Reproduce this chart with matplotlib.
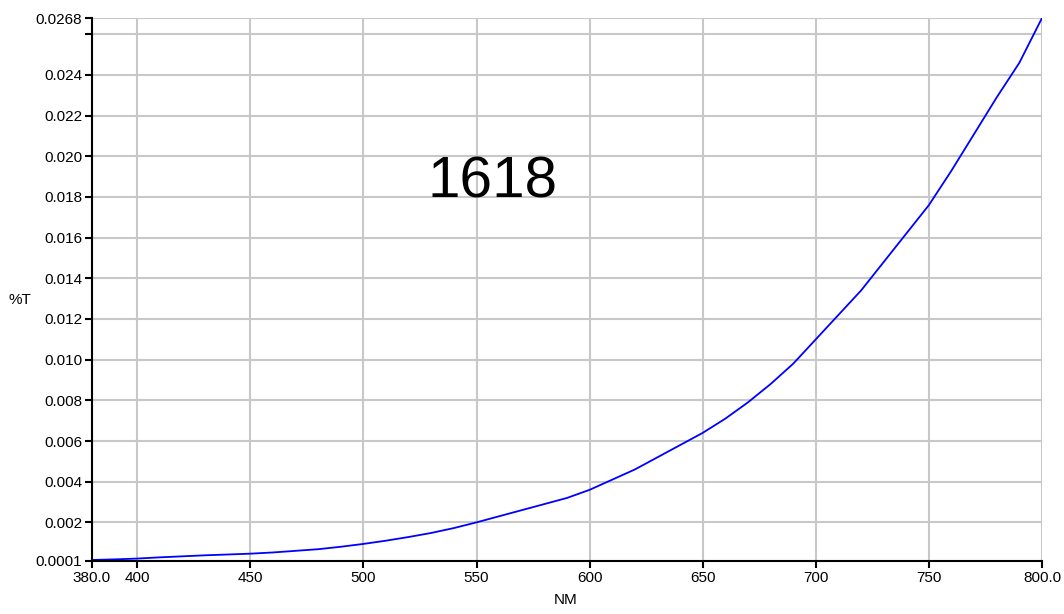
import matplotlib
matplotlib.use("Agg")
import matplotlib.pyplot as plt

plt.rcParams['font.family'] = ['Liberation Sans', 'DejaVu Sans']

# spectrum
wavelength = [380, 390, 400, 410, 420, 430, 440, 450, 460, 470, 480, 490,
              500, 510, 520, 530, 540, 550, 560, 570, 580, 590, 600, 610,
              620, 630, 640, 650, 660, 670, 680, 690, 700, 710, 720,
              730, 740, 750, 760, 770, 780, 790, 800]
transmission = [0.00015, 0.00018, 0.00022, 0.00028, 0.00033, 0.00038, 0.00042,
                0.00046, 0.00052, 0.00060, 0.00068, 0.00080, 0.00094, 0.00110,
                0.00128, 0.00148, 0.00172, 0.0020, 0.0023, 0.0026, 0.0029,
                0.0032, 0.0036, 0.0041, 0.0046, 0.0052, 0.0058, 0.0064,
                0.0071, 0.0079, 0.0088, 0.0098, 0.0110, 0.0122, 0.0134,
                0.0148, 0.0162, 0.0176, 0.0193, 0.0211, 0.0229, 0.0246, 0.0268]

x_ticks = [380, 400, 450, 500, 550, 600, 650, 700, 750, 800]
x_labels = ['380.0', '400', '450', '500', '550', '600', '650', '700', '750', '800.0']
y_ticks = [0.0001, 0.002, 0.004, 0.006, 0.008, 0.010, 0.012, 0.014, 0.016,
           0.018, 0.020, 0.022, 0.024, 0.026, 0.0268]
y_labels = ['0.0001', '0.002', '0.004', '0.006', '0.008', '0.010', '0.012',
            '0.014', '0.016', '0.018', '0.020', '0.022', '0.024', '', '0.0268']

fig = plt.figure(figsize=(10.64, 6.14), dpi=100)
ax = fig.add_axes([92 / 1064, 53 / 614, 950 / 1064, 543 / 614])

ax.plot(wavelength, transmission, color='#0000ff', linewidth=1.3, zorder=3)

ax.set_xlim(380, 800)
ax.set_ylim(0.0001, 0.0268)
ax.set_xticks(x_ticks)
ax.set_xticklabels(x_labels)
ax.set_yticks(y_ticks)
ax.set_yticklabels(y_labels)

ax.grid(True, color='#c8c8c8', linewidth=1.5)
ax.set_axisbelow(True)
for side in ['top', 'right']:
    ax.spines[side].set_visible(False)
for side in ['left', 'bottom']:
    ax.spines[side].set_linewidth(1.5)
    ax.spines[side].set_zorder(4)
ax.tick_params(direction='out', length=5, width=1.5, labelsize=11, pad=2)

fig.text(20 / 1064, 1 - 300 / 614, '%T', fontsize=11, ha='center', va='center')
fig.text(566 / 1064, 1 - 600 / 614, 'NM', fontsize=11, ha='center', va='center')
fig.text(493 / 1064, 1 - 183 / 614, '1618', fontsize=42, ha='center', va='center')

fig.savefig('out.png', dpi=100)
